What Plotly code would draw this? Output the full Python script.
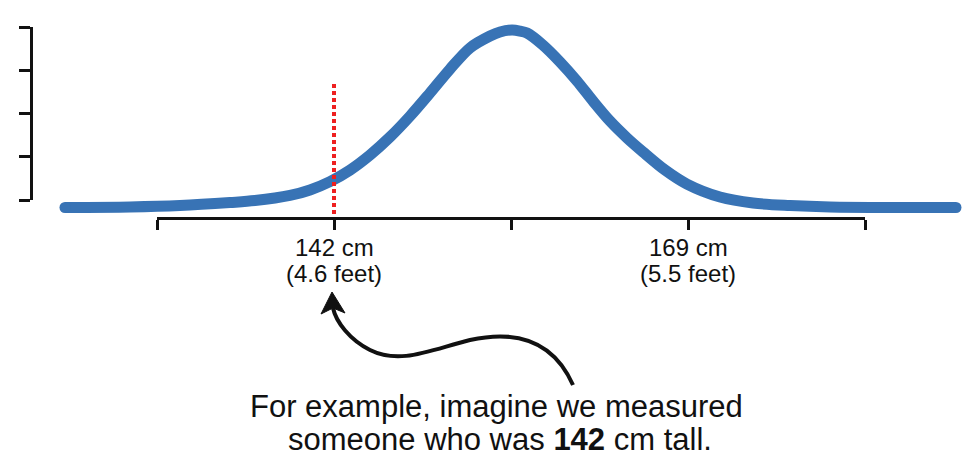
import plotly.graph_objects as go

# height distribution (cm, relative density)
heights_cm = [121.48, 126.44, 130.25, 134.07, 135.97, 138.64, 140.17, 141.69, 143.22,
              144.75, 146.27, 147.80, 149.32, 150.85, 152.37, 153.90, 154.66, 155.58,
              156.19, 156.72, 157.94, 159.24, 160.53, 161.75, 163.05, 164.35, 165.57,
              167.25, 168.92, 171.44, 173.96, 176.78, 179.83, 185.17, 189.44]
density = [0.0, 0.003, 0.011, 0.028, 0.039, 0.068, 0.099, 0.146, 0.211,
           0.296, 0.397, 0.515, 0.645, 0.780, 0.899, 0.966, 0.989, 1.0,
           0.994, 0.983, 0.915, 0.820, 0.713, 0.600, 0.487, 0.392, 0.313,
           0.211, 0.132, 0.059, 0.025, 0.011, 0.003, 0.0, 0.0]

x_ticks = [128.5, 142, 155.5, 169, 182.5]
y_ticks = [0, 1, 2, 3, 4]
tick_labels = {142: ("142 cm", "(4.6 feet)"), 169: ("169 cm", "(5.5 feet)")}

measured = 142
marker_top, marker_bottom = 0.713, -0.037

BLUE = "#3873b5"
RED = "#ee2020"
INK = "#111111"
FONT = "Liberation Sans, Arial, Helvetica, sans-serif"

# the page body keeps its 8px margin, so lay things out in page pixels
OFF = 8
W, H = 960, 456


def px(x):
    return (x - OFF) / W


def py(y):
    return 1 - (y - OFF) / H


# page pixel <-> data scale of the main axes
CM_PX, CM_AT = 354 / 27, 334  # 142 cm sits at page x=334
DEN_PX, BASE = 177.5, 207.5   # density 0 sits at page y=207.5


def cm_at(p):
    return 142 + (p - CM_AT) / CM_PX


def den_at(p):
    return (BASE - p) / DEN_PX


fig = go.Figure()

fig.add_trace(go.Scatter(
    x=heights_cm, y=density, mode="lines",
    line=dict(color=BLUE, width=11, shape="spline", smoothing=0.9),
    hoverinfo="skip", showlegend=False
))
# round ends of the curve
fig.add_trace(go.Scatter(
    x=[heights_cm[0], heights_cm[-1]], y=[density[0], density[-1]], mode="markers",
    marker=dict(color=BLUE, size=11), hoverinfo="skip", showlegend=False
))
fig.add_trace(go.Scatter(
    x=[measured, measured], y=[marker_bottom, marker_top], mode="lines",
    line=dict(color=RED, width=4, dash="4px,3px"),
    hoverinfo="skip", showlegend=False
))
# carrier trace so the free-standing axes get drawn
fig.add_trace(go.Scatter(
    x=[x_ticks[0], x_ticks[-1]], y=[y_ticks[0], y_ticks[-1]], xaxis="x2", yaxis="y2",
    mode="markers", marker=dict(opacity=0), hoverinfo="skip", showlegend=False
))

for val, (line1, line2) in tick_labels.items():
    fig.add_annotation(x=val, y=py(247), xref="x", yref="paper", text=line1,
                       showarrow=False, font=dict(size=24, color=INK, family=FONT),
                       yanchor="middle")
    fig.add_annotation(x=val, y=py(273), xref="x", yref="paper", text=line2,
                       showarrow=False, font=dict(size=24, color=INK, family=FONT),
                       yanchor="middle")

fig.add_annotation(x=px(496), y=py(406), xref="paper", yref="paper",
                   text="For example, imagine we measured", showarrow=False,
                   font=dict(size=31, color=INK, family=FONT), yanchor="middle")
fig.add_annotation(x=px(500), y=py(439), xref="paper", yref="paper",
                   text="someone who was <b>142</b> cm tall.", showarrow=False,
                   font=dict(size=31, color=INK, family=FONT), yanchor="middle")

# curved pointer from the caption up to the 142 cm label
segs = [
    [(553, 340), (515, 330), (470, 340)],
    [(430, 350), (400, 365), (370, 350)],
    [(350, 340), (336, 322), (333, 308)],
]
path = "M {},{} ".format(px(573), py(385))
for seg in segs:
    path += "C " + " ".join("{},{}".format(px(a), py(b)) for a, b in seg) + " "
fig.add_shape(type="path", xref="paper", yref="paper", path=path,
              line=dict(color=INK, width=4))
head = [(332, 292), (321, 314), (333, 308), (345, 313)]
head_path = "M " + " L ".join("{},{}".format(px(a), py(b)) for a, b in head) + " Z"
fig.add_shape(type="path", xref="paper", yref="paper", path=head_path,
              line=dict(color=INK, width=1), fillcolor=INK)

fig.update_layout(
    width=W, height=H,
    margin=dict(l=0, r=0, t=0, b=0),
    paper_bgcolor="white", plot_bgcolor="rgba(0,0,0,0)",
    xaxis=dict(domain=[0, 1], range=[cm_at(OFF), cm_at(OFF + W)], visible=False),
    yaxis=dict(domain=[0, 1], range=[den_at(OFF + H), den_at(OFF)], visible=False),
    xaxis2=dict(
        domain=[px(157), px(865)], range=[x_ticks[0], x_ticks[-1]],
        anchor="free", position=py(218),
        showline=True, linecolor=INK, linewidth=3, showgrid=False, zeroline=False,
        ticks="outside", ticklen=10, tickwidth=3, tickcolor=INK,
        tickvals=x_ticks, showticklabels=False
    ),
    yaxis2=dict(
        domain=[py(200), py(27)], range=[y_ticks[0], y_ticks[-1]],
        anchor="free", position=px(31),
        showline=True, linecolor=INK, linewidth=3, showgrid=False, zeroline=False,
        ticks="outside", ticklen=11, tickwidth=3, tickcolor=INK,
        tickvals=y_ticks, showticklabels=False
    ),
)

fig.write_html("out.html")
